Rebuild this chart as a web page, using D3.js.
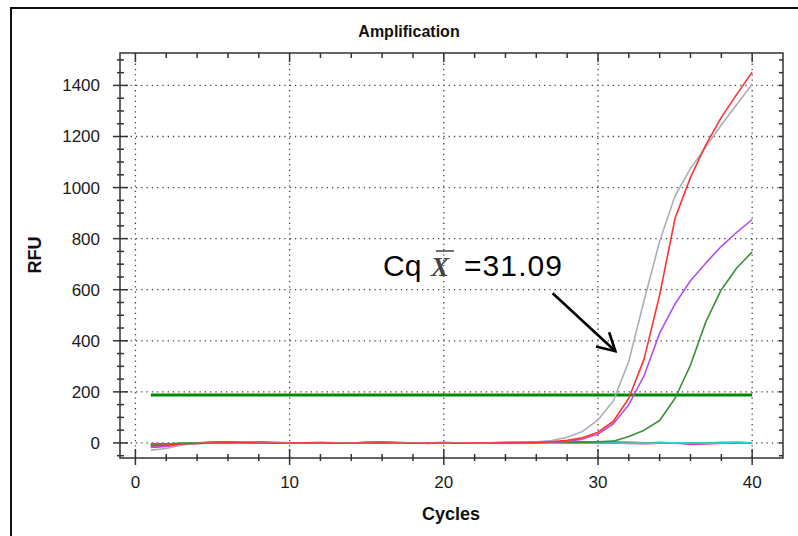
<!DOCTYPE html>
<html>
<head>
<meta charset="utf-8">
<script src="https://cdn.jsdelivr.net/npm/d3@7"></script>
<style>
  body { margin: 0; background: #fff; }
  svg { display: block; font-family: Arial, "Liberation Sans", sans-serif; }
</style>
</head>
<body>
<svg id="chart" width="798" height="536"></svg>
<script>
// data
const cycles = d3.range(1, 41);

const grey   = [-28,-22,-8,-2,0,1,2,1,0,1,0,-1,0,1,0,1,0,-1,0,1,0,0,1,2,2,4,9,22,45,90,165,320,560,790,968,1075,1160,1245,1325,1405];
const red    = [-10,-8,-4,-2,0,2,1,0,-1,0,1,0,-1,0,0,1,0,-1,0,0,-1,0,0,1,1,2,4,10,20,42,85,175,330,580,880,1040,1168,1275,1365,1452];
const purple = [-15,-12,-6,-2,0,1,2,3,1,0,0,1,0,-1,0,0,1,0,0,2,0,-1,0,1,1,2,3,6,15,35,75,150,265,430,545,635,705,770,825,875];
const dkgreen = [-5,-4,-2,0,2,3,2,1,0,0,1,0,1,0,2,3,1,0,1,0,1,0,0,1,2,2,3,3,3,4,7,25,50,88,175,305,475,600,685,748];

// the flat (negative) wells
const cyan    = [-8,-5,-2,0,1,2,1,0,0,1,0,-1,0,1,0,0,-1,0,1,0,0,-1,0,0,1,0,-1,0,0,1,0,-1,-2,0,1,0,-1,0,2,0];
const magenta = [-18,-14,-6,-1,1,2,3,4,2,1,0,-1,0,0,-1,0,1,0,-2,1,0,0,1,0,-1,0,0,1,0,-1,0,-2,-3,-1,0,-6,-4,-1,0,-1];
const ltgreen = [-6,-4,-1,1,3,4,2,1,0,0,1,2,1,0,2,3,2,0,1,0,1,0,1,2,3,1,0,2,1,0,1,0,-1,2,0,1,0,2,1,0];
const orange  = [-12,-9,-3,0,2,1,0,-1,0,1,0,0,-1,0,1,0,-1,0,0,1,0,0,-1,1,0,1,0,0,-1,0,1,2,0,-1,1,0,-1,1,3,1];
const seagreen = [-4,-3,-1,0,1,1,0,0,1,0,0,1,0,0,1,1,0,0,0,1,0,0,1,1,1,2,2,3,3,3,3,2,1,1,0,0,1,0,0,0];

const threshold = 188;
const cqText = "=31.09";
const arrowFrom = [27.06, 586];
const arrowTo = [31.13, 359];

const xMajor = [0, 10, 20, 30, 40];
const yMajor = [0, 200, 400, 600, 800, 1000, 1200, 1400];

const series = [
  {v: seagreen, c: "#2e8b57"},
  {v: orange, c: "#ff8c1a"},
  {v: ltgreen, c: "#3cc83c"},
  {v: magenta, c: "#e030d0"},
  {v: cyan, c: "#20d8d8"},
  {v: dkgreen, c: "#3a8f3a"},
  {v: purple, c: "#b050f0"},
  {v: grey, c: "#a9b0bb"},
  {v: red, c: "#ff3333"}
];

const svg = d3.select("#chart");
const L = 120, R = 783, T = 53, B = 458;

const x = d3.scaleLinear().domain([-1, 42]).range([L, R]);
const y = d3.scaleLinear().domain([-59, 1527]).range([B, T]);

// outer frame
svg.append("path").attr("d", "M11,536 V8 H798")
  .attr("fill", "none").attr("stroke", "#111").attr("stroke-width", 2);

svg.append("text").attr("x", 409).attr("y", 37)
  .attr("text-anchor", "middle").attr("font-weight", "bold").attr("font-size", 16)
  .attr("fill", "#111").text("Amplification");

// grid
const grid = svg.append("g").attr("stroke", "#444").attr("stroke-width", 1.3)
  .attr("stroke-dasharray", "1.3,4");
grid.selectAll(".gx").data(xMajor).join("line")
  .attr("x1", d => x(d)).attr("x2", d => x(d)).attr("y1", T).attr("y2", B);
grid.selectAll(".gy").data(yMajor).join("line")
  .attr("x1", L).attr("x2", R).attr("y1", d => y(d)).attr("y2", d => y(d));

// threshold
svg.append("line")
  .attr("x1", x(1)).attr("x2", x(40)).attr("y1", y(threshold)).attr("y2", y(threshold))
  .attr("stroke", "#008a00").attr("stroke-width", 3);

// curves
const line = d3.line().x((d, i) => x(cycles[i])).y(d => y(d));
svg.append("g").selectAll("path").data(series).join("path")
  .attr("d", d => line(d.v))
  .attr("fill", "none").attr("stroke", d => d.c).attr("stroke-width", 1.6)
  .attr("stroke-linejoin", "round");

// axes
const axisCol = "#333";
const minorX = d3.range(0, 42, 2);
const minorY = d3.range(-50, 1525, 50);

const ax = svg.append("g").attr("stroke", axisCol).attr("stroke-width", 1.5);
ax.append("rect").attr("x", L).attr("y", T).attr("width", R - L).attr("height", B - T)
  .attr("fill", "none");

// bottom
ax.selectAll(".bx").data(minorX).join("line")
  .attr("x1", d => x(d)).attr("x2", d => x(d))
  .attr("y1", d => xMajor.includes(d) ? B - 9 : B - 4)
  .attr("y2", d => xMajor.includes(d) ? B + 7 : B + 3);
// top
ax.selectAll(".tx").data(minorX).join("line")
  .attr("x1", d => x(d)).attr("x2", d => x(d))
  .attr("y1", T).attr("y2", d => xMajor.includes(d) ? T + 9 : T + 5);
// left
ax.selectAll(".ly").data(minorY).join("line")
  .attr("y1", d => y(d)).attr("y2", d => y(d))
  .attr("x1", d => yMajor.includes(d) ? L - 7 : L - 3)
  .attr("x2", d => yMajor.includes(d) ? L + 8 : L + 4);
// right
ax.selectAll(".ry").data(minorY).join("line")
  .attr("y1", d => y(d)).attr("y2", d => y(d))
  .attr("x1", R - 4).attr("x2", R);

const labels = svg.append("g").attr("fill", "#1a1a1a").attr("font-size", 17);
labels.selectAll(".xl").data(xMajor).join("text")
  .attr("x", d => x(d)).attr("y", 488).attr("text-anchor", "middle").text(d => d);
labels.selectAll(".yl").data(yMajor).join("text")
  .attr("x", 100).attr("y", d => y(d)).attr("dy", "0.35em").attr("text-anchor", "end").text(d => d);

svg.append("text").attr("x", 451).attr("y", 520).attr("text-anchor", "middle")
  .attr("font-weight", "bold").attr("font-size", 18).attr("fill", "#111").text("Cycles");
svg.append("text").attr("transform", "translate(41,255) rotate(-90)")
  .attr("text-anchor", "middle").attr("font-weight", "bold").attr("font-size", 18)
  .attr("fill", "#111").text("RFU");

// annotation
const ann = svg.append("g").attr("fill", "#000");
ann.append("text").attr("x", 383).attr("y", 276).attr("font-size", 30).text("Cq");
ann.append("text").attr("x", 431).attr("y", 276).attr("font-size", 27)
  .attr("font-family", "'Liberation Serif', 'DejaVu Serif', serif")
  .attr("font-style", "italic").attr("font-weight", "bold").attr("fill", "#444").text("X");
ann.append("line").attr("x1", 436).attr("x2", 454).attr("y1", 251).attr("y2", 251)
  .attr("stroke", "#444").attr("stroke-width", 1.5);
ann.append("text").attr("x", 464).attr("y", 276).attr("font-size", 30)
  .attr("textLength", 98).text(cqText);

svg.append("defs").append("marker")
  .attr("id", "arr").attr("markerUnits", "userSpaceOnUse")
  .attr("viewBox", "-22 -12 24 24").attr("markerWidth", 24).attr("markerHeight", 24)
  .attr("refX", 0).attr("refY", 0).attr("orient", "auto")
  .append("path").attr("d", "M-17.5,-9.7 L0,0 L-17.5,9.7")
  .attr("fill", "none").attr("stroke", "#000").attr("stroke-width", 2.6);

svg.append("line")
  .attr("x1", x(arrowFrom[0])).attr("y1", y(arrowFrom[1]))
  .attr("x2", x(arrowTo[0])).attr("y2", y(arrowTo[1]))
  .attr("stroke", "#000").attr("stroke-width", 2.6).attr("marker-end", "url(#arr)");
</script>
</body>
</html>
